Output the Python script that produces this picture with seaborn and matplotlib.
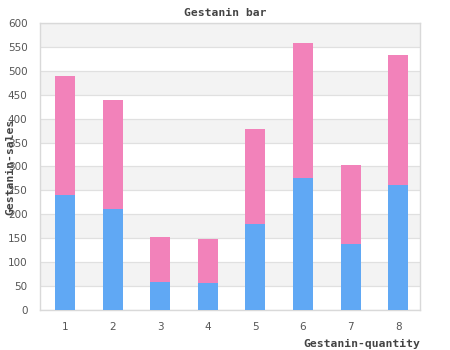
import matplotlib
matplotlib.use("Agg")
import matplotlib.pyplot as plt
import seaborn as sns
import pandas as pd
import numpy as np

quantity = ["1", "2", "3", "4", "5", "6", "7", "8"]
sales_base = [240, 211, 59, 56, 179, 275, 139, 262]
sales_extra = [250, 229, 94, 93, 199, 284, 165, 272]
y_ticks = [0, 50, 100, 150, 200, 250, 300, 350, 400, 450, 500, 550, 600]

blue = "#60a8f4"
pink = "#f282ba"
text_col = "#444444"

sns.set_theme(style="white")
plt.rcParams["font.family"] = ["DejaVu Sans"]

df = pd.DataFrame({
    "quantity": quantity,
    "base": sales_base,
    "total": [b + e for b, e in zip(sales_base, sales_extra)],
})

fig = plt.figure(figsize=(4.5, 3.5), dpi=100)
ax = fig.add_axes([40 / 450, 40 / 350, 380 / 450, 287 / 350])

# alternating horizontal bands
for lo in range(50, 600, 100):
    ax.axhspan(lo, lo + 50, color="#f3f3f3", zorder=0, lw=0)
for t in y_ticks:
    ax.axhline(t, color="#e0e0e0", lw=0.9, zorder=0.5)

sns.barplot(data=df, x="quantity", y="total", color=pink, saturation=1,
            width=0.42, ax=ax, zorder=2, linewidth=0, edgecolor="none")
sns.barplot(data=df, x="quantity", y="base", color=blue, saturation=1,
            width=0.42, ax=ax, zorder=3, linewidth=0, edgecolor="none")

ax.set_ylim(0, 600)
ax.set_xlim(-0.53, 7.46)
ax.set_yticks(y_ticks)
ax.tick_params(axis="both", length=0, labelsize=7.5, labelcolor="#555555")
ax.tick_params(axis="y", pad=9)
ax.tick_params(axis="x", pad=9)

for s in ax.spines.values():
    s.set_visible(True)
    s.set_color("#d9d9d9")
    s.set_linewidth(1.0)

mono = dict(family="DejaVu Sans Mono", weight="bold", size=8.2, color=text_col)
ax.set_xlabel("Gestanin-quantity", ha="right", **mono)
ax.xaxis.set_label_coords(1.0, -0.10)
ax.set_ylabel("Gestanin-sales", **mono)
ax.yaxis.set_label_coords(-0.066, 0.5)
fig.text(0.5, 1 - 13 / 350, "Gestanin bar", ha="center", va="center", **mono)

fig.savefig("out.png", dpi=100, facecolor="white")
